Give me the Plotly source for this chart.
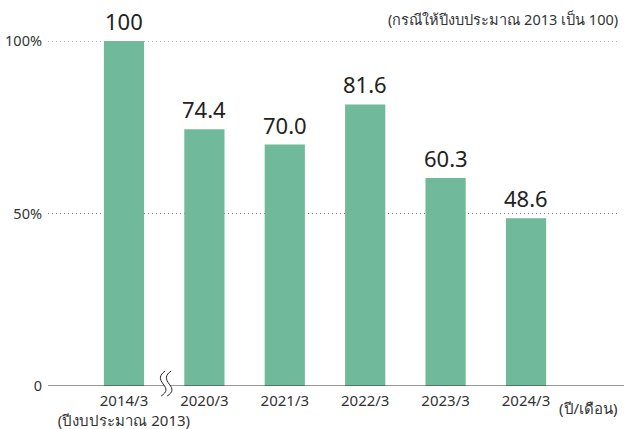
import plotly.graph_objects as go

categories = ["2014/3<br>(ปีงบประมาณ 2013)", "2020/3", "2021/3", "2022/3", "2023/3", "2024/3"]
values = [100, 74.4, 70.0, 81.6, 60.3, 48.6]
value_labels = ["100", "74.4", "70.0", "81.6", "60.3", "48.6"]
y_ticks = [0, 50, 100]
y_tick_labels = ["0", "50%", "100%"]
grid_values = [50, 100]

BAR = "#70b99a"
TXT = "#333333"
FONT = "Noto Sans, Open Sans, sans-serif"

pos = list(range(len(categories)))
x_range = [-0.945, 6.169]
break_at = 0.5
break_paper = (break_at - x_range[0]) / (x_range[1] - x_range[0])

fig = go.Figure()
fig.add_trace(go.Bar(x=pos, y=values, width=0.5, marker=dict(color=BAR, line=dict(width=0)),
                     hoverinfo="skip"))

for p, v, t in zip(pos, values, value_labels):
    fig.add_annotation(x=p, y=v, text=t, showarrow=False, xref="x", yref="y",
                       yanchor="bottom", yshift=3,
                       font=dict(size=22, color="#222222", family=FONT))

# dotted gridlines
for g in grid_values:
    fig.add_shape(type="line", xref="paper", yref="y", x0=0, x1=1, y0=g, y1=g,
                  line=dict(color="#777777", width=1, dash="1px,3px"), layer="below")

# baseline
fig.add_shape(type="line", xref="paper", yref="y", x0=0, x1=1.01, y0=0, y1=0,
              line=dict(color="#333333", width=1))

# axis break symbol
fig.add_shape(type="path", xref="paper", yref="paper", xsizemode="pixel", ysizemode="pixel",
              xanchor=break_paper, yanchor=0,
              path="M 1 15 C -5 11 -5 7 -1 2 C 3 -3 3 -6 -3 -10 L 3 -10 C 9 -6 9 -3 5 2 C 1 7 1 11 7 15 Z",
              fillcolor="white", line=dict(width=0))
for dx in (0, 6):
    fig.add_shape(type="path", xref="paper", yref="paper", xsizemode="pixel", ysizemode="pixel",
                  xanchor=break_paper, yanchor=0,
                  path=f"M {1+dx} 15 C {-5+dx} 11 {-5+dx} 7 {-1+dx} 2 C {3+dx} -3 {3+dx} -6 {-3+dx} -10",
                  line=dict(color="#222222", width=1))

fig.add_annotation(x=1.0, y=-0.028, xref="paper", yref="paper", text="(ปี/เดือน)",
                   showarrow=False, xanchor="right", yanchor="top",
                   font=dict(size=15, color=TXT, family=FONT))
fig.add_annotation(x=1.0, y=1.03, xref="paper", yref="paper",
                   text="(กรณีให้ปีงบประมาณ 2013 เป็น 100)",
                   showarrow=False, xanchor="right", yanchor="bottom",
                   font=dict(size=14.5, color=TXT, family=FONT))

fig.update_layout(
    width=624, height=429,
    margin=dict(l=48, r=4, t=41, b=43),
    plot_bgcolor="white", paper_bgcolor="white",
    showlegend=False,
    font=dict(family=FONT, color=TXT, size=14),
    xaxis=dict(range=x_range, tickmode="array", tickvals=pos, ticktext=categories,
               showgrid=False, zeroline=False, showline=False, ticks="",
               tickangle=0, automargin=False, ticklabelstandoff=4,
               tickfont=dict(size=15, color=TXT)),
    yaxis=dict(range=[0, 100], tickmode="array", tickvals=y_ticks, ticktext=y_tick_labels,
               showgrid=False, zeroline=False, showline=False, ticks="", ticklabelstandoff=5,
               automargin=False, tickfont=dict(size=14.5, color=TXT)),
)

fig.write_html("out.html", config={"displayModeBar": False},
               post_script="document.body.style.margin='0';")
